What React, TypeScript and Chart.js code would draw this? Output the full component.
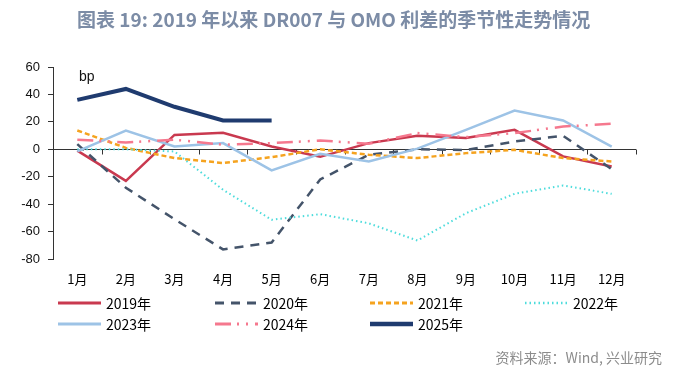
import React, { useEffect, useRef } from "react";
import { Chart, registerables } from "chart.js";

Chart.register(...registerables);

const months = ["1月", "2月", "3月", "4月", "5月", "6月", "7月", "8月", "9月", "10月", "11月", "12月"];
const yTicks = [60, 40, 20, 0, -20, -40, -60, -80];
const s2019 = [-1, -23, 10.5, 12, 2, -5.5, 4.5, 9.8, 8.2, 14.2, -5.2, -12.5];
const s2020 = [3.8, -28, -51, -73, -68, -22, -4, 0, -0.5, 5.7, 9.8, -14.5];
const s2021 = [13.7, 1, -6.4, -10, -5.7, 0, -4, -6.4, -2.8, -0.4, -6.4, -8.9];
const s2022 = [0, 0, -1.6, -29.5, -51.4, -47.3, -54, -66.5, -46.6, -32.5, -26.4, -32.5];
const s2023 = [-1.5, 13.7, 2, 4.5, -15.4, -3.3, -8.9, 0.5, 14.2, 28.3, 21, 2];
const s2024 = [7, 5, 7, 3.3, 4.5, 6.4, 4, 11.8, 8.9, 11.8, 16.6, 18.6];
const s2025 = [36, 44, 31, 21, 21];
const seriesNames = ["2019年", "2020年", "2021年", "2022年", "2023年", "2024年", "2025年"];
const titleText = "图表 19: 2019 年以来 DR007 与 OMO 利差的季节性走势情况";
const sourceText = "资料来源：Wind, 兴业研究";
const unitText = "bp";

const styles = [
  { color: "#C9394F", width: 2.5, dash: [] as number[] },
  { color: "#44546A", width: 2.5, dash: [9, 7] },
  { color: "#F5A31F", width: 2.5, dash: [5, 3] },
  { color: "#4DDCDC", width: 2, dash: [1.5, 3] },
  { color: "#9DC3E6", width: 2.5, dash: [] as number[] },
  { color: "#F5788E", width: 2.5, dash: [16, 6, 2, 7, 2, 7] },
  { color: "#1F3B6F", width: 4, dash: [] as number[] },
];
const seriesData = [s2019, s2020, s2021, s2022, s2023, s2024, s2025];

const LEFT = 53;
const RIGHT = 636;
const TOP = 67;
const BOTTOM = 259;
const W = 684;
const H = 376;

const decorPlugin = {
  id: "decor",
  beforeDatasetsDraw(chart: any) {
    const ctx = chart.ctx;
    const y = chart.scales.y;
    const y0 = Math.round(y.getPixelForValue(0)) + 0.5;
    ctx.save();
    ctx.strokeStyle = "#333";
    ctx.lineWidth = 1;
    ctx.beginPath();
    ctx.moveTo(chart.chartArea.left, y0);
    ctx.lineTo(chart.chartArea.right, y0);
    const step = (chart.chartArea.right - chart.chartArea.left) / months.length;
    for (let i = 1; i <= months.length; i++) {
      const px = Math.round(chart.chartArea.left + i * step) + 0.5;
      ctx.moveTo(px, y0);
      ctx.lineTo(px, y0 + 5);
    }
    ctx.stroke();
    ctx.restore();
  },
  afterDraw(chart: any) {
    const ctx = chart.ctx;
    ctx.save();
    // title
    ctx.font = "bold 19px 'Noto Sans CJK SC', 'Noto Sans', sans-serif";
    ctx.fillStyle = "#7C8CA6";
    ctx.textBaseline = "middle";
    ctx.textAlign = "left";
    ctx.fillText(titleText, 77, 20);
    // unit
    ctx.font = "14px 'Liberation Sans', Arial, sans-serif";
    ctx.fillStyle = "#111";
    ctx.fillText(unitText, 79, 77);
    // legend
    const cols = [58, 215, 370, 525];
    const rows = [303, 324];
    ctx.font = "14px 'Liberation Sans Narrow', 'Noto Sans CJK SC', sans-serif";
    seriesNames.forEach((name, i) => {
      const cx = cols[i % 4];
      const cy = rows[Math.floor(i / 4)];
      const st = styles[i];
      ctx.beginPath();
      ctx.strokeStyle = st.color;
      ctx.lineWidth = st.width + 0.5;
      ctx.setLineDash(st.dash);
      ctx.moveTo(cx, cy);
      ctx.lineTo(cx + 43, cy);
      ctx.stroke();
      ctx.setLineDash([]);
      ctx.fillStyle = "#000";
      ctx.textAlign = "left";
      ctx.fillText(name, cx + 48, cy + 1);
    });
    // source
    ctx.font = "14px 'Noto Sans CJK SC', sans-serif";
    ctx.fillStyle = "#8C8C8C";
    ctx.textAlign = "right";
    ctx.fillText(sourceText, 662, 358);
    ctx.restore();
  },
};

export default function App() {
  const ref = useRef<HTMLCanvasElement | null>(null);
  useEffect(() => {
    if (!ref.current) return;
    const chart = new Chart(ref.current, {
      type: "line",
      data: {
        labels: months,
        datasets: seriesNames.map((name, i) => ({
          label: name,
          data: seriesData[i],
          borderColor: styles[i].color,
          backgroundColor: styles[i].color,
          borderWidth: styles[i].width,
          borderDash: styles[i].dash,
          pointRadius: 0,
          tension: 0,
          fill: false,
          order: 7 - i,
        })),
      },
      options: {
        animation: false,
        responsive: false,
        maintainAspectRatio: false,
        layout: { padding: { left: 0, top: TOP, right: W - RIGHT, bottom: 0 } },
        plugins: { legend: { display: false }, tooltip: { enabled: false }, title: { display: false } },
        scales: {
          x: {
            type: "category",
            offset: true,
            grid: { display: false, drawTicks: false },
            border: { display: false },
            ticks: {
              padding: 12,
              color: "#000",
              font: { size: 13, family: "'Noto Sans CJK SC', sans-serif" },
              maxRotation: 0,
              autoSkip: false,
            },
            afterFit(scale: any) {
              scale.height = H - BOTTOM;
            },
          },
          y: {
            min: -80,
            max: 60,
            afterBuildTicks(scale: any) {
              scale.ticks = yTicks.map((v) => ({ value: v }));
            },
            grid: { drawOnChartArea: false, drawTicks: true, tickLength: 5, color: "#333" },
            border: { display: true, color: "#333", width: 1 },
            ticks: {
              padding: 8,
              color: "#111",
              font: { size: 13, family: "'Liberation Sans', Arial, sans-serif" },
            },
            afterFit(scale: any) {
              scale.width = LEFT;
            },
          },
        },
      },
      plugins: [decorPlugin],
    });
    return () => chart.destroy();
  }, []);
  return (
    <div style={{ position: "fixed", left: 0, top: 0, width: W, height: H, background: "#fff" }}>
      <canvas ref={ref} width={W} height={H} style={{ width: W, height: H, display: "block" }} />
    </div>
  );
}
